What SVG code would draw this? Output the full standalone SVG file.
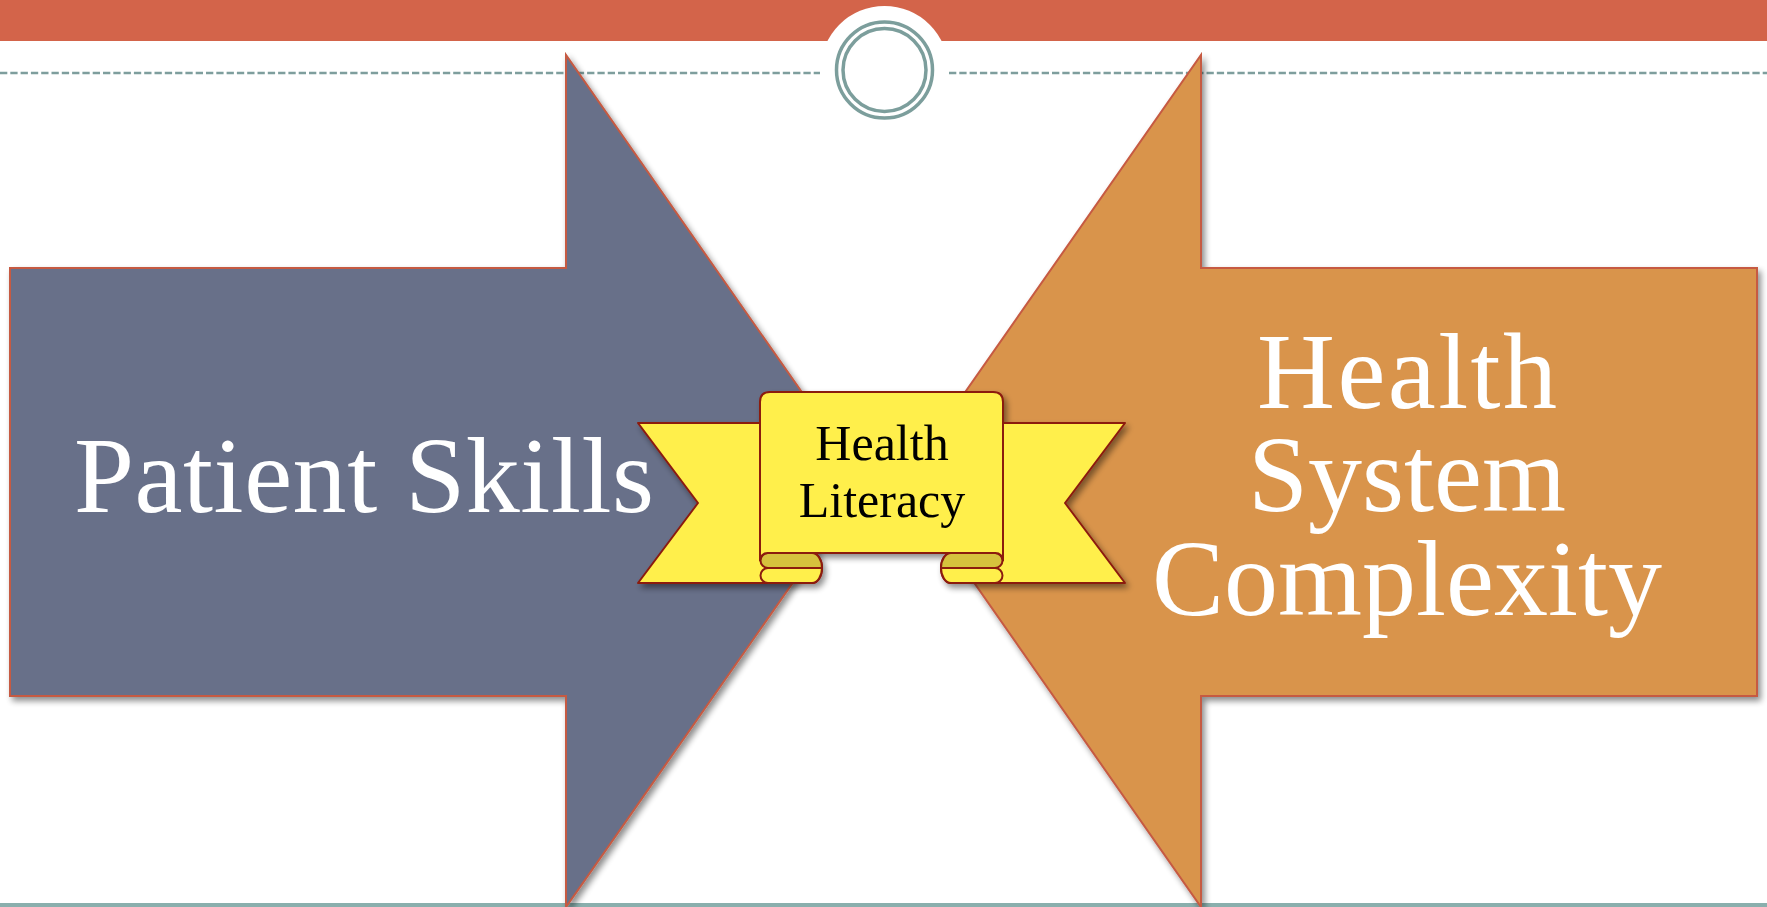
<svg xmlns="http://www.w3.org/2000/svg" width="1767" height="907" viewBox="0 0 1767 907">
<defs>
<filter id="sh" x="-10%" y="-10%" width="130%" height="130%">
<feGaussianBlur in="SourceAlpha" stdDeviation="3"/>
<feOffset dx="3" dy="4" result="b"/>
<feComponentTransfer><feFuncA type="linear" slope="0.45"/></feComponentTransfer>
<feMerge><feMergeNode/><feMergeNode in="SourceGraphic"/></feMerge>
</filter>
</defs>
<style>
.teal{fill:none;stroke:#7C9E9C}
.dash{stroke:#7E9E9D;stroke-width:2.7;stroke-dasharray:7.3 3}
.arrow{stroke:#C65A42;stroke-width:2;stroke-linejoin:miter}
.big{font-family:"Liberation Serif","Times New Roman",serif;font-size:108px;fill:#FFFFFF;text-anchor:middle}
.rib{fill:#FFEF4B;stroke:#8B1A10;stroke-width:2;stroke-linejoin:round}
.fold{fill:#D6C23E;stroke:#8B1A10;stroke-width:2;stroke-linejoin:round}
.lbl{font-family:"Liberation Serif","Times New Roman",serif;font-size:50px;fill:#000000;text-anchor:middle}
</style>
<rect width="1767" height="907" fill="#FFFFFF"/>
<g id="header">
<rect x="0" y="0" width="1767" height="41" fill="#D3644A"/>
<circle cx="884.5" cy="70" r="64" fill="#FFFFFF"/>
<line class="dash" x1="0" y1="73" x2="820" y2="73"/>
<line class="dash" x1="949" y1="73" x2="1767" y2="73"/>
<circle class="teal" cx="884.5" cy="70" r="48" stroke-width="3.5"/>
<circle class="teal" cx="884.5" cy="70" r="41.5" stroke-width="3.5"/>
</g>
<rect id="footer" x="0" y="903" width="1767" height="4" fill="#8AAFAD"/>
<g id="patient-skills">
<polygon class="arrow" fill="#687089" filter="url(#sh)" points="10,268 566,268 566,55 864,481 566,907 566,696 10,696"/>
<text class="big" x="364" y="512" textLength="580" lengthAdjust="spacing">Patient Skills</text>
</g>
<g id="health-system-complexity">
<polygon class="arrow" fill="#D9944C" filter="url(#sh)" points="1757,268 1201,268 1201,55 903,481 1201,907 1201,696 1757,696"/>
<text class="big" x="1407" y="408" textLength="300" lengthAdjust="spacing">Health</text>
<text class="big" x="1407" y="511">System</text>
<text class="big" x="1407" y="615">Complexity</text>
</g>
<g id="health-literacy">
<g filter="url(#sh)">
<path class="rib" d="M638,423 H812 V553 A10,15 0 0 1 812,583 H638 L698,503 Z"/>
<path class="rib" d="M1125,423 H951 V553 A10,15 0 0 0 951,583 H1125 L1065,503 Z"/>
<path class="fold" d="M768,553 H812 A10,15 0 0 1 822,568 H768 A7.5,7.5 0 0 1 768,553 Z"/>
<path class="rib" d="M768,568 H822 A10,15 0 0 1 812,583 H768 A7.5,7.5 0 0 1 768,568 Z"/>
<path class="fold" d="M995,553 H951 A10,15 0 0 0 941,568 H995 A7.5,7.5 0 0 0 995,553 Z"/>
<path class="rib" d="M995,568 H941 A10,15 0 0 0 951,583 H995 A7.5,7.5 0 0 0 995,568 Z"/>
<path class="rib" d="M760,560.5 V402 Q760,392 770,392 H993 Q1003,392 1003,402 V560.5 A7.5,7.5 0 0 0 995.5,553 H767.5 A7.5,7.5 0 0 0 760,560.5 Z"/>
</g>
<text class="lbl" x="882" y="460">Health</text>
<text class="lbl" x="882" y="517">Literacy</text>
</g>
</svg>
